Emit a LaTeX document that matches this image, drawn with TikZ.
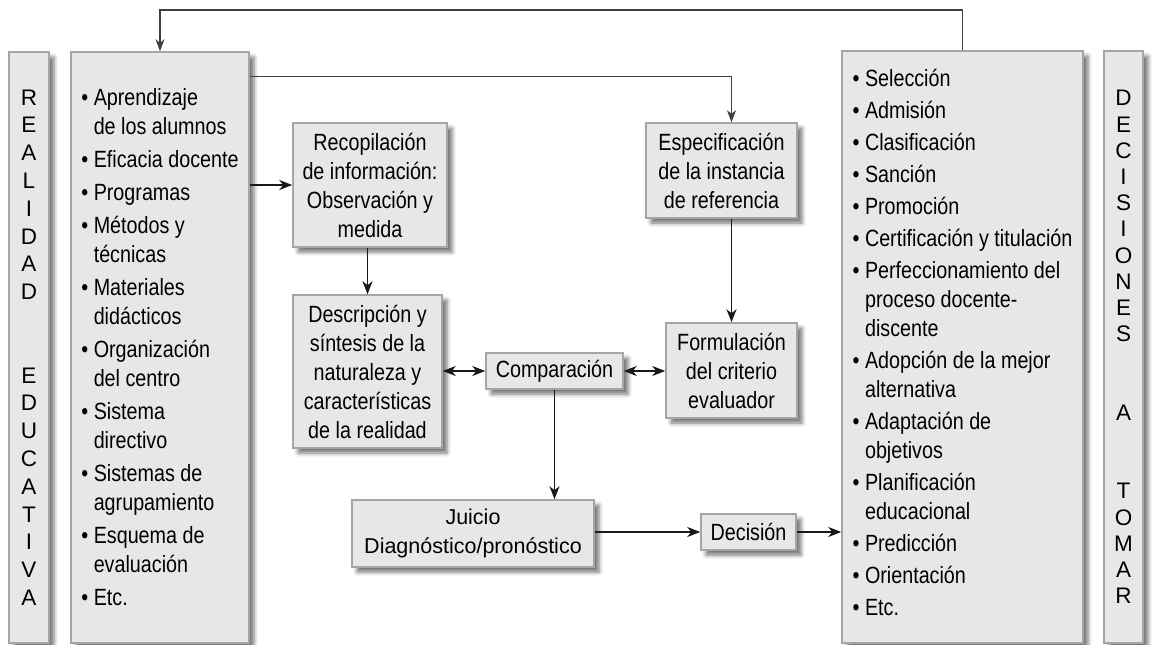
\documentclass[tikz,border=0pt]{standalone}
\usepackage{fontspec}
\setmainfont{Liberation Sans}[FakeStretch=0.84]
\newfontfamily\juiciofont{Liberation Sans}
\usetikzlibrary{arrows.meta,shadows.blur}
\definecolor{relleno}{HTML}{E6E7E8}
\definecolor{borde}{HTML}{A3A5A8}
\newcommand{\bul}{\textbullet\ }
\newcommand{\sangria}{\hphantom{\textbullet\ }}

\begin{document}
\begin{tikzpicture}[x=1pt, y=-1pt,
    caja/.style={rectangle, draw=borde, fill=relleno, line width=1.5pt, align=center,
        inner xsep=6pt, inner ysep=3pt, font=\fontsize{23.5}{29}\selectfont,
        blur shadow={shadow xshift=5pt, shadow yshift=-5pt, shadow blur radius=4pt, shadow opacity=55}},
    lista/.style={caja, align=left, inner xsep=9.5pt},
    letras/.style={caja, font=\juiciofont\fontsize{22.5}{#1}\selectfont},
    flecha/.style={-{Stealth[length=13pt, width=10pt, inset=4pt]}, line width=1.6pt, black!90},
    fina/.style={-{Stealth[length=12pt, width=9pt, inset=3.5pt]}, line width=1.1pt, black!75},
    doble/.style={{Stealth[length=13pt, width=10pt, inset=4pt]}-{Stealth[length=13pt, width=10pt, inset=4pt]}, line width=1.6pt, black!90}
]
    \useasboundingbox (0,0) rectangle (1152,645);

    % Realidad educativa
    \node[letras=27.8pt, minimum width=40pt, minimum height=591pt] (realidad) at (29,347.5)
        {R\\E\\A\\L\\I\\D\\A\\D\\[55.6pt]E\\D\\U\\C\\A\\T\\I\\V\\A};
    \node[lista, minimum width=178pt, minimum height=591pt] (listaIzq) at (160,347.5)
        {\bul Aprendizaje\\\sangria de los alumnos\\[4pt]
         \bul Eficacia docente\\[4pt]
         \bul Programas\\[4pt]
         \bul Métodos y\\\sangria técnicas\\[4pt]
         \bul Materiales\\\sangria didácticos\\[4pt]
         \bul Organización\\\sangria del centro\\[4pt]
         \bul Sistema\\\sangria directivo\\[4pt]
         \bul Sistemas de\\\sangria agrupamiento\\[4pt]
         \bul Esquema de\\\sangria evaluación\\[4pt]
         \bul Etc.};

    % Proceso
    \node[caja, minimum width=154pt, minimum height=124pt] (recop) at (370,185)
        {Recopilación\\de información:\\Observación y\\medida};
    \node[caja, minimum width=149pt, minimum height=153pt] (descr) at (367.5,371.5)
        {Descripción y\\síntesis de la\\naturaleza y\\características\\de la realidad};
    \node[caja, minimum width=137pt, minimum height=36pt] (compar) at (554.5,371) {Comparación};
    \node[caja, minimum width=151pt, minimum height=95pt] (espec) at (721.5,170.5)
        {Especificación\\de la instancia\\de referencia};
    \node[caja, minimum width=131pt, minimum height=95pt] (formul) at (731.5,370.5)
        {Formulación\\del criterio\\evaluador};
    \node[caja, minimum width=242pt, minimum height=67pt, font=\juiciofont\fontsize{21.5}{29}\selectfont] (juicio) at (473,533.5)
        {Juicio\\Diagnóstico/pronóstico};
    \node[caja, minimum width=95pt, minimum height=36pt] (decision) at (748.5,532) {Decisión};

    % Decisiones a tomar
    \node[lista, minimum width=241pt, minimum height=592pt, text depth=10pt] (listaDer) at (962.5,347)
        {\bul Selección\\[3pt]
         \bul Admisión\\[3pt]
         \bul Clasificación\\[3pt]
         \bul Sanción\\[3pt]
         \bul Promoción\\[3pt]
         \bul Certificación y titulación\\[3pt]
         \bul Perfeccionamiento del\\\sangria proceso docente-\\\sangria discente\\[3pt]
         \bul Adopción de la mejor\\\sangria alternativa\\[3pt]
         \bul Adaptación de\\\sangria objetivos\\[3pt]
         \bul Planificación\\\sangria educacional\\[3pt]
         \bul Predicción\\[3pt]
         \bul Orientación\\[3pt]
         \bul Etc.};
    \node[letras=26.2pt, minimum width=39pt, minimum height=592pt] (decisiones) at (1123.5,347)
        {D\\E\\C\\I\\S\\I\\O\\N\\E\\S\\[52.4pt]A\\[52.4pt]T\\O\\M\\A\\R};

    % Flechas
    \coordinate (retorno) at (0,10);
    \draw[fina] (listaDer.north) -- (listaDer.north |- retorno) -| (listaIzq.north);
    \draw[fina] ([yshift=-25pt]listaIzq.north east) -| (espec.north -| formul.north);
    \draw[flecha] (listaIzq.east |- recop.west) -- (recop.west);
    \draw[flecha] (recop.south -| descr.north) -- (descr.north);
    \draw[flecha] (espec.south -| formul.north) -- (formul.north);
    \draw[doble] (descr.east |- compar.west) -- (compar.west);
    \draw[doble] (compar.east) -- (formul.west |- compar.east);
    \draw[flecha] (compar.south) -- (compar.south |- juicio.north);
    \draw[flecha] (juicio.east |- decision.west) -- (decision.west);
    \draw[flecha] (decision.east) -- (decision.east -| listaDer.west);
\end{tikzpicture}
\end{document}
